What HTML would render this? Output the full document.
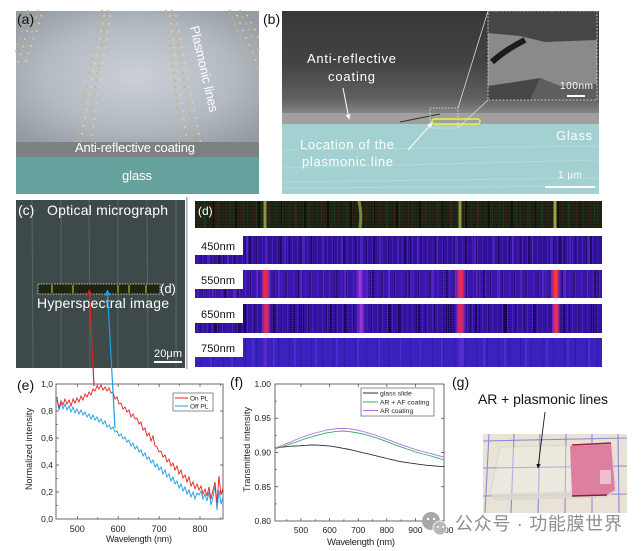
<!DOCTYPE html>
<html><head><meta charset="utf-8">
<style>
html,body{margin:0;padding:0;background:#fff;}
body{width:643px;height:551px;position:relative;overflow:hidden;font-family:"Liberation Sans","Noto Sans CJK SC",sans-serif;}
.hs{position:absolute;left:195px;width:407px;}
.top{background:
 repeating-linear-gradient(90deg,transparent 0 3px,rgba(90,30,20,.45) 3px 4px,transparent 4px 7px),
 repeating-linear-gradient(90deg,transparent 0 9px,rgba(40,70,30,.5) 9px 10px,transparent 10px 13px),
 repeating-linear-gradient(90deg,transparent 0 17px,rgba(0,0,0,.5) 17px 19px,transparent 19px 23px),
 repeating-linear-gradient(0deg,rgba(0,0,0,.2) 0 1px,transparent 1px 3px),
 #1f2616;}
.s450{background:
 repeating-linear-gradient(0deg,rgba(80,40,200,.25) 0 1px,transparent 1px 2px),
 repeating-linear-gradient(90deg,transparent 0 2px,rgba(100,50,230,.45) 2px 3px,transparent 3px 5px),
 repeating-linear-gradient(90deg,transparent 0 6px,rgba(10,0,40,.45) 6px 7px,transparent 7px 11px),
 repeating-linear-gradient(90deg,transparent 0 13px,rgba(120,60,240,.4) 13px 15px,transparent 15px 19px),
 repeating-linear-gradient(90deg,transparent 0 23px,rgba(5,0,25,.55) 23px 25px,transparent 25px 31px),
 #2c0f92;}
.s550{background:
 repeating-linear-gradient(0deg,rgba(90,40,210,.25) 0 1px,transparent 1px 2px),
 repeating-linear-gradient(90deg,transparent 0 2px,rgba(110,50,240,.45) 2px 3px,transparent 3px 6px),
 repeating-linear-gradient(90deg,transparent 0 7px,rgba(10,0,40,.45) 7px 8px,transparent 8px 12px),
 repeating-linear-gradient(90deg,transparent 0 17px,rgba(140,60,250,.4) 17px 19px,transparent 19px 22px),
 repeating-linear-gradient(90deg,transparent 0 29px,rgba(5,0,25,.5) 29px 31px,transparent 31px 37px),
 #3412a6;}
.s650{background:
 repeating-linear-gradient(0deg,rgba(80,40,200,.25) 0 1px,transparent 1px 2px),
 repeating-linear-gradient(90deg,transparent 0 2px,rgba(100,50,230,.45) 2px 3px,transparent 3px 5px),
 repeating-linear-gradient(90deg,transparent 0 5px,rgba(10,0,40,.5) 5px 6px,transparent 6px 9px),
 repeating-linear-gradient(90deg,transparent 0 19px,rgba(5,0,25,.6) 19px 22px,transparent 22px 29px),
 repeating-linear-gradient(90deg,transparent 0 43px,rgba(5,0,25,.45) 43px 47px,transparent 47px 53px),
 #2e1098;}
.s750{background:
 repeating-linear-gradient(0deg,rgba(60,30,180,.2) 0 1px,transparent 1px 2px),
 repeating-linear-gradient(90deg,transparent 0 6px,rgba(20,0,80,.3) 6px 7px,transparent 7px 11px),
 repeating-linear-gradient(90deg,transparent 0 15px,rgba(110,80,255,.3) 15px 17px,transparent 17px 21px),
 #3a22c0;}
svg{position:absolute;left:0;top:0;}
</style></head><body>

<div class="hs top" style="top:201px;height:27px;"></div>
<div class="hs s450" style="top:236px;height:28px;"></div>
<div class="hs s550" style="top:270px;height:28px;"></div>
<div class="hs s650" style="top:304px;height:29px;"></div>
<div class="hs s750" style="top:338px;height:29px;"></div>

<svg width="643" height="551" viewBox="0 0 643 551" font-family="Liberation Sans, sans-serif">
<defs>
<radialGradient id="ga" cx="0.5" cy="0.5" r="0.65">
 <stop offset="0" stop-color="#cbd0d6"/><stop offset="0.6" stop-color="#b3bac1"/><stop offset="1" stop-color="#959ca3"/>
</radialGradient>
<linearGradient id="gb" x1="0" y1="0" x2="0" y2="1">
 <stop offset="0" stop-color="#383838"/><stop offset="0.5" stop-color="#434343"/><stop offset="0.85" stop-color="#606060"/><stop offset="1" stop-color="#888"/>
</linearGradient>
<linearGradient id="rl" x1="0" y1="0" x2="1" y2="0">
 <stop offset="0" stop-color="#a030d0" stop-opacity="0"/><stop offset="0.25" stop-color="#c03090" stop-opacity="0.8"/><stop offset="0.5" stop-color="#f82840"/><stop offset="0.75" stop-color="#c03090" stop-opacity="0.8"/><stop offset="1" stop-color="#a030d0" stop-opacity="0"/>
</linearGradient>
<linearGradient id="ml" x1="0" y1="0" x2="1" y2="0">
 <stop offset="0" stop-color="#9030e0" stop-opacity="0"/><stop offset="0.5" stop-color="#b040f0" stop-opacity="0.9"/><stop offset="1" stop-color="#9030e0" stop-opacity="0"/>
</linearGradient>
<marker id="aw" viewBox="0 0 10 10" refX="9" refY="5" markerWidth="5" markerHeight="5" orient="auto"><path d="M0,0 L10,5 L0,10 z" fill="#fff"/></marker>
<marker id="ak" viewBox="0 0 10 10" refX="9" refY="5" markerWidth="5" markerHeight="5" orient="auto"><path d="M0,0 L10,5 L0,10 z" fill="#111"/></marker>
<marker id="ar" viewBox="0 0 10 10" refX="9" refY="5" markerWidth="5" markerHeight="5" orient="auto"><path d="M0,0 L10,5 L0,10 z" fill="#e02020"/></marker>
<marker id="ab" viewBox="0 0 10 10" refX="9" refY="5" markerWidth="5" markerHeight="5" orient="auto"><path d="M0,0 L10,5 L0,10 z" fill="#1e9be8"/></marker>
</defs>

<!-- (a) -->
<rect x="16" y="11" width="243" height="131" fill="url(#ga)"/>
<g stroke-linecap="round" fill="none">
 <g stroke="#cdb47c" stroke-width="2.4" stroke-dasharray="0 7" opacity="0.9">
  <path d="M28,11 L16,52 M38,11 L21,68"/>
  <path d="M102,11 L73,153 M108,11 L84,153"/>
  <path d="M166,11 L183,153 M172,11 L196,153"/>
  <path d="M230,11 L255,75 M240,11 L259,50"/>
 </g>
 <g stroke="#e6d4a2" stroke-width="2" stroke-dasharray="0 8" stroke-dashoffset="3" opacity="0.9">
  <path d="M33,11 L18,63 M43,11 L25,64"/>
  <path d="M105,11 L78,155 M111,11 L90,150"/>
  <path d="M169,11 L189,155 M175,11 L202,150"/>
  <path d="M235,11 L259,68 M245,11 L259,38"/>
 </g>
</g>
<rect x="16" y="142" width="243" height="15" fill="#6f7779" opacity="0.92"/>
<rect x="16" y="157" width="243" height="37" fill="#65a19d"/>
<text x="17" y="24" font-size="14" fill="#111">(a)</text>
<text transform="translate(190,27) rotate(77)" font-size="13" fill="#fff" textLength="88">Plasmonic lines</text>
<text x="75" y="152" font-size="13" fill="#fff" textLength="120">Anti-reflective coating</text>
<text x="122" y="180" font-size="13" fill="#fff" textLength="30">glass</text>

<!-- (b) -->
<rect x="282" y="11" width="317" height="103" fill="url(#gb)"/>
<rect x="282" y="113" width="317" height="11" fill="#a0a0a0"/>
<rect x="282" y="124" width="317" height="70" fill="#a3d0d0"/>
<g stroke="#b6dddd" stroke-width="1" opacity="0.8">
 <path d="M282,150 L599,146 M282,168 L599,160 M282,182 L599,178 M282,188 L599,186"/>
</g>
<path d="M400,122 Q420,118 440,114" stroke="#333" stroke-width="1" fill="none"/>
<rect x="488" y="11" width="109" height="89" fill="#464646"/>
<polygon points="488,33 520,36 545,42 597,40 597,84 560,86 540,78 515,82 488,86" fill="#8a8a8a"/>
<polygon points="540,78 560,86 597,84 597,100 530,100" fill="#5e5e5e"/>
<path d="M492,62 Q505,50 525,40" stroke="#1c1c1c" stroke-width="6" fill="none"/>
<rect x="488" y="11" width="109" height="89" fill="none" stroke="#ddd" stroke-width="0.8" stroke-dasharray="2 1.5"/>
<rect x="430" y="108" width="28" height="20" fill="none" stroke="#eee" stroke-width="0.8" stroke-dasharray="1.5 1.5"/>
<rect x="432" y="119" width="48" height="5" rx="2.5" fill="none" stroke="#f4f030" stroke-width="1.4"/>
<path d="M458,108 L488,11 M458,128 L488,100" stroke="#e8e8e8" stroke-width="0.7"/>
<path d="M343,88 L349,119" stroke="#fff" stroke-width="1" marker-end="url(#aw)"/>
<path d="M408,150 L432,123" stroke="#fff" stroke-width="1" marker-end="url(#aw)"/>
<text x="263" y="24" font-size="14" fill="#111">(b)</text>
<text x="307" y="63" font-size="13" fill="#fff" textLength="89">Anti-reflective</text>
<text x="328" y="81" font-size="13" fill="#fff" textLength="47">coating</text>
<text x="300" y="149" font-size="13" fill="#fff" textLength="94">Location of the</text>
<text x="302" y="166" font-size="13" fill="#fff" textLength="91">plasmonic line</text>
<text x="556" y="140" font-size="13" fill="#fff" textLength="36">Glass</text>
<text x="558" y="178" font-size="10" fill="#fff" textLength="24">1 μm</text>
<rect x="545" y="186" width="50" height="2" fill="#fff"/>
<text x="560" y="89" font-size="10" fill="#fff" textLength="33">100nm</text>
<rect x="567" y="95" width="18" height="2" fill="#fff"/>

<!-- (c) -->
<rect x="16" y="200" width="169" height="168" fill="#3e4a4a"/>
<g stroke="#6f8c8a" stroke-width="1" opacity="0.45">
 <path d="M32,200 L33,368 M61,200 L61,368 M89,200 L90,368 M118,200 L118,368 M147,200 L148,368 M176,200 L176,368"/>
</g>
<rect x="186" y="197" width="1.5" height="172" fill="#aab"/>
<rect x="38" y="284" width="122" height="10" fill="#1d2412" stroke="#eee" stroke-width="0.8" stroke-dasharray="1.5 1.2"/>
<g stroke="#9a9a28" stroke-width="1.5"><path d="M52,285 V293 M73,285 V293 M118,285 V293 M129,285 V293 M146,285 V293"/></g>
<text x="18" y="215" font-size="14" fill="#fff">(c)</text>
<text x="47" y="215" font-size="14" fill="#fff" textLength="121">Optical micrograph</text>
<text x="160" y="293" font-size="13" fill="#fff">(d)</text>
<text x="37" y="308" font-size="14" fill="#fff" textLength="132">Hyperspectral image</text>
<text x="154" y="357" font-size="11" fill="#fff" textLength="28">20μm</text>
<rect x="154" y="361" width="28" height="2" fill="#fff"/>

<!-- (d) overlay -->
<g stroke-width="3" opacity="0.85">
 <path d="M265,201 V228" stroke="#a0b040"/>
 <path d="M359,201 Q362,215 360,228" stroke="#8a9a38"/>
 <path d="M460,201 V228" stroke="#a0b040"/>
 <path d="M555,201 V228" stroke="#b0b844"/>
</g>
<text x="198" y="215" font-size="12" fill="#fff">(d)</text>
<g>
 <rect x="260" y="270" width="11" height="28" fill="url(#rl)"/>
 <rect x="355" y="270" width="10" height="28" fill="url(#ml)"/>
 <rect x="455" y="270" width="11" height="28" fill="url(#rl)"/>
 <rect x="550" y="270" width="11" height="28" fill="url(#rl)"/>
 <rect x="264" y="270" width="3" height="28" fill="#f02848"/>
 <rect x="459" y="270" width="3.5" height="28" fill="#ff2440"/>
 <rect x="554" y="270" width="3.5" height="28" fill="#ff3830"/>
 <rect x="261" y="304" width="10" height="29" fill="url(#rl)"/>
 <rect x="356" y="304" width="10" height="29" fill="url(#ml)"/>
 <rect x="455" y="304" width="11" height="29" fill="url(#rl)"/>
 <rect x="551" y="304" width="10" height="29" fill="url(#rl)"/>
 <rect x="265" y="304" width="2.5" height="29" fill="#e82848"/>
 <rect x="459" y="304" width="3" height="29" fill="#f02440"/>
 <rect x="555" y="304" width="2.5" height="29" fill="#f03040"/>
 <rect x="262" y="338" width="7" height="29" fill="url(#ml)" opacity="0.4"/>
 <rect x="457" y="338" width="7" height="29" fill="url(#ml)" opacity="0.4"/>
</g>
<g font-size="11" fill="#111">
 <rect x="195" y="236" width="48" height="19" fill="#fff"/><text x="201" y="250" textLength="34">450nm</text>
 <rect x="195" y="270" width="48" height="19" fill="#fff"/><text x="201" y="284" textLength="34">550nm</text>
 <rect x="195" y="304" width="48" height="19" fill="#fff"/><text x="201" y="318" textLength="34">650nm</text>
 <rect x="195" y="338" width="48" height="19" fill="#fff"/><text x="201" y="352" textLength="34">750nm</text>
</g>

<!-- (e) -->
<text x="17" y="390" font-size="14" fill="#111">(e)</text>
<rect x="56" y="384" width="167" height="135" fill="#fff" stroke="#444" stroke-width="0.8"/>
<g stroke="#444" stroke-width="0.7">
 <path d="M77.3,519 v-3 M118.2,519 v-3 M159.1,519 v-3 M200,519 v-3 M97.75,519 v-1.7 M138.65,519 v-1.7 M179.55,519 v-1.7 M220.45,519 v-1.7"/>
 <path d="M77.3,384 v3 M118.2,384 v3 M159.1,384 v3 M200,384 v3 M97.75,384 v1.7 M138.65,384 v1.7 M179.55,384 v1.7 M220.45,384 v1.7"/>
 <path d="M56,492 h3 M56,465 h3 M56,438 h3 M56,411 h3 M56,505.5 h1.7 M56,478.5 h1.7 M56,451.5 h1.7 M56,424.5 h1.7 M56,397.5 h1.7"/>
 <path d="M223,492 h-3 M223,465 h-3 M223,438 h-3 M223,411 h-3"/>
</g>
<g font-size="8.5" fill="#222" text-anchor="end">
 <text x="53" y="522">0,0</text><text x="53" y="495">0,2</text><text x="53" y="468">0,4</text>
 <text x="53" y="441">0,6</text><text x="53" y="414">0,8</text><text x="53" y="387">1,0</text>
</g>
<g font-size="9" fill="#222" text-anchor="middle">
 <text x="77.3" y="532">500</text><text x="118.2" y="532">600</text><text x="159.1" y="532">700</text><text x="200" y="532">800</text>
</g>
<text x="106" y="542" font-size="9" fill="#222" textLength="66">Wavelength (nm)</text>
<text transform="translate(32,490) rotate(-90)" font-size="9" fill="#222" textLength="82">Normalized intensity</text>
<polyline fill="none" stroke="#1e9be8" stroke-width="0.9" points="57,400 59,410 61,403 63,409 65,404 67,410 69,406 71,412 73,407 75,413 77,409 79,414 81,410 83,415 85,412 87,417 89,414 91,419 93,415 95,420 97,417 99,422 101,419 103,424 105,421 107,427 109,425 111,429 113,427 115,432 117,431 119,436 121,434 123,439 125,437 127,442 129,440 131,446 133,443 135,449 137,446 139,452 141,450 143,456 145,453 147,459 149,457 151,463 153,460 155,467 157,464 159,470 161,467 163,474 165,470 167,477 169,474 171,481 173,477 175,484 177,481 179,488 181,484 183,491 185,487 187,494 189,490 191,497 193,492 195,499 197,493 199,495 201,491 203,499 205,494 207,501 209,492 211,505 213,497 215,486 217,510 219,490 221,504 223,497"/>
<polyline fill="none" stroke="#e82020" stroke-width="0.9" points="57,398 59,408 61,401 63,405 65,399 67,404 69,400 71,406 73,399 75,403 77,398 79,402 81,396 83,400 85,394 87,397 89,392 91,395 93,389 95,391 97,386 99,389 101,385 103,390 105,387 107,391 109,388 111,393 113,392 115,399 117,397 119,404 121,403 123,409 125,407 127,412 129,410 131,417 133,414 135,419 137,418 139,424 141,422 143,430 145,428 147,436 149,433 151,441 153,436 155,446 157,447 159,452 161,451 163,457 165,455 167,462 169,459 171,466 173,463 175,470 177,466 179,474 181,470 183,478 185,475 187,482 189,477 191,486 193,482 195,489 197,484 199,490 201,486 203,494 205,489 207,496 209,487 211,499 213,490 215,482 217,503 219,476 221,495 223,488"/>
<rect x="173" y="393" width="40" height="18" fill="#fff" stroke="#444" stroke-width="0.6"/>
<path d="M175,398 h13" stroke="#e82020" stroke-width="1"/>
<path d="M175,406 h13" stroke="#1e9be8" stroke-width="1"/>
<text x="190" y="400.5" font-size="6.5" fill="#222">On PL</text>
<text x="190" y="408.5" font-size="6.5" fill="#222">Off PL</text>
<path d="M94,386 L89.3,290" stroke="#e02020" stroke-width="1.2" marker-end="url(#ar)"/>
<path d="M115,428 L107.3,290" stroke="#1e9be8" stroke-width="1.2" marker-end="url(#ab)"/>

<!-- (f) -->
<text x="230" y="387" font-size="14" fill="#111">(f)</text>
<rect x="275" y="384" width="169" height="137" fill="#fff" stroke="#444" stroke-width="0.8"/>
<g stroke="#444" stroke-width="0.7">
 <path d="M301,521 v-3 M329.6,521 v-3 M358.2,521 v-3 M386.8,521 v-3 M415.4,521 v-3 M286.7,521 v-1.7 M315.3,521 v-1.7 M343.9,521 v-1.7 M372.5,521 v-1.7 M401.1,521 v-1.7 M429.7,521 v-1.7"/>
 <path d="M301,384 v3 M329.6,384 v3 M358.2,384 v3 M386.8,384 v3 M415.4,384 v3"/>
 <path d="M275,418.25 h3 M275,452.5 h3 M275,486.75 h3 M275,401.1 h1.7 M275,435.4 h1.7 M275,469.6 h1.7 M275,503.9 h1.7"/>
 <path d="M444,418.25 h-3 M444,452.5 h-3 M444,486.75 h-3"/>
</g>
<g font-size="8.5" fill="#222" text-anchor="end">
 <text x="271" y="387">1.00</text><text x="271" y="421">0.95</text><text x="271" y="455.5">0.90</text>
 <text x="271" y="490">0.85</text><text x="271" y="524">0.80</text>
</g>
<g font-size="8.5" fill="#222" text-anchor="middle">
 <text x="301" y="533">500</text><text x="329.6" y="533">600</text><text x="358.2" y="533">700</text>
 <text x="386.8" y="533">800</text><text x="415.4" y="533">900</text><text x="444" y="533">1000</text>
</g>
<text x="327" y="545" font-size="9.5" fill="#222" textLength="68">Wavelength (nm)</text>
<text transform="translate(250,492) rotate(-90)" font-size="9" fill="#222" textLength="85">Transmitted intensity</text>
<polyline fill="none" stroke="#333" stroke-width="0.9" points="275,448 279,447.5 283,447 287,446.6 291,446.2 295,446 299,445.8 303,445.5 307,445.3 311,445 315,445 319,445.2 323,445.5 327,445.8 331,446.2 335,446.8 339,447.5 343,448.3 347,449 351,449.8 355,450.8 359,451.8 363,452.8 367,453.6 371,454.6 375,455.5 379,456.6 383,457.5 387,458.5 391,459.5 395,460.3 399,461.3 403,462 407,462.6 411,463.2 415,463.7 419,464.3 423,464.8 427,465.3 431,465.6 435,466 439,466.3 444,466.5"/>
<polyline fill="none" stroke="#2fb060" stroke-width="0.9" points="275,449 279,447.5 283,446.5 287,445 291,443.7 295,442.5 299,441 303,439.5 307,438.2 311,437 315,435.8 319,434.8 323,433.8 327,432.8 331,432.3 335,431.6 339,431.2 343,431 347,431.4 351,431.8 355,432.5 359,433.2 363,434 367,435 371,436.2 375,437.5 379,438.8 383,440.2 387,441.8 391,443.2 395,444.8 399,446.2 403,447.6 407,449 411,450.3 415,451.8 419,452.8 423,454 427,455 431,456 435,457.3 439,458.3 444,460"/>
<polyline fill="none" stroke="#b070e0" stroke-width="0.9" points="275,448.5 279,446.5 283,445 287,443.3 291,441.8 295,440 299,438.5 303,437 307,435.6 311,434.3 315,433 319,432 323,431 327,430 331,429.4 335,428.8 339,428.5 343,428.4 347,428.6 351,429 355,429.6 359,430.5 363,431.5 367,432.6 371,433.8 375,435 379,436.4 383,437.8 387,439.3 391,440.8 395,442.3 399,443.8 403,445.3 407,446.6 411,448 415,449.3 419,450.4 423,451.5 427,452.6 431,453.6 435,454.7 439,455.8 444,457"/>
<rect x="361" y="388" width="73" height="28" fill="#fff" stroke="#444" stroke-width="0.6"/>
<path d="M363,393 h15" stroke="#333" stroke-width="1"/>
<path d="M363,402 h15" stroke="#2fb060" stroke-width="1"/>
<path d="M363,410.5 h15" stroke="#b070e0" stroke-width="1"/>
<g font-size="6.8" fill="#222">
 <text x="380" y="395.5">glass slide</text>
 <text x="380" y="404.5">AR + AF coating</text>
 <text x="380" y="413">AR coating</text>
</g>

<!-- (g) -->
<text x="452" y="387" font-size="14" fill="#111">(g)</text>
<text x="478" y="404" font-size="14" fill="#111" textLength="130">AR + plasmonic lines</text>
<rect x="483" y="434" width="144" height="79" fill="#e8e3d4"/>
<g stroke="#8f8ad6" stroke-width="1.1">
 <path d="M489,434 L485,513 M514,434 L511,513 M540,434 L538,513 M566,434 L565,513 M592,434 L592,513 M618,434 L619,513"/>
 <path d="M483,441 L627,438 M483,468 L627,466 M483,496 L627,494"/>
</g>
<polygon points="500,447 612,444 616,490 608,497 495,500 490,494" fill="#f4f3ee" opacity="0.35" stroke="#c8c8c0" stroke-width="1.2"/>
<polygon points="490,494 616,490 608,497 495,500" fill="#d8d8d0" opacity="0.85"/>
<polygon points="570,446 611,444 615,490 607,495 572,496" fill="#dd7fa0"/>
<path d="M572,445 L611,443" stroke="#a02040" stroke-width="1.5"/>
<path d="M572,496 L607,495" stroke="#8a2030" stroke-width="1.5"/>
<rect x="600" y="470" width="11" height="14" fill="#f4d0dc" opacity="0.8"/>
<path d="M545,412 L538,468" stroke="#111" stroke-width="0.9" marker-end="url(#ak)"/>

<!-- watermark -->
<circle cx="431" cy="521" r="9" fill="#a8a8a8"/>
<circle cx="440" cy="528" r="7" fill="#b8b8b8" stroke="#fff" stroke-width="0.8"/>
<circle cx="428" cy="519" r="1.2" fill="#fff"/><circle cx="434" cy="519" r="1.2" fill="#fff"/>
<circle cx="438" cy="527" r="1" fill="#fff"/><circle cx="443" cy="527" r="1" fill="#fff"/>
<text x="455" y="530" font-size="18" fill="#8e8e8e" font-family="Liberation Sans, Noto Sans CJK SC, sans-serif" textLength="167">公众号 · 功能膜世界</text>
</svg>
</body></html>
